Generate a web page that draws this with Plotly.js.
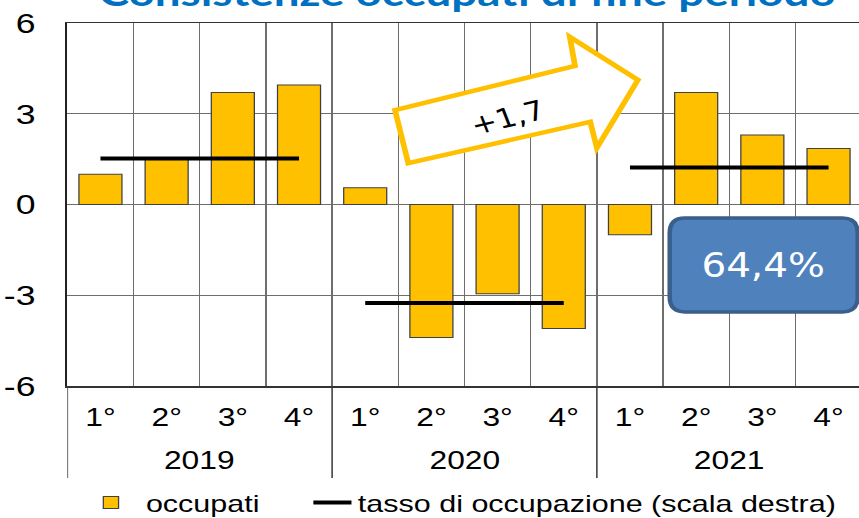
<!DOCTYPE html>
<html>
<head>
<meta charset="utf-8">
<script src="https://cdn.plot.ly/plotly-3.0.1.min.js"></script>
<style>
  html, body { margin: 0; padding: 0; background: #ffffff; overflow: hidden; width: 859px; height: 518px; }
  #chart { width: 676px; height: 518px; transform: scaleX(1.2707); transform-origin: 0 0; }
</style>
</head>
<body>
<div id="chart"></div>
<script>
// ---- data ----
const quarters = ['1°','2°','3°','4°','1°','2°','3°','4°','1°','2°','3°','4°'];
const years = ['2019','2020','2021'];
const occupati = [1.0, 1.5, 3.7, 3.95, 0.55, -4.4, -2.95, -4.1, -1.0, 3.7, 2.3, 1.85];
const tassoMedio = [1.52, -3.26, 1.22]; // annual employment rate, drawn on the chart scale
const yTicks = [-6, -3, 0, 3, 6];
const titleText = 'Consistenze occupati di fine periodo';
const arrowLabel = '+1,7';
const boxLabel = '64,4%';

// ---- build ----
const xIdx = quarters.map((q, i) => i);
const lineX = [], lineY = [];
years.forEach((y, i) => {
  lineX.push(4 * i, 4 * i + 3, null);
  lineY.push(tassoMedio[i], tassoMedio[i], null);
});

const txtFont = 'Liberation Sans, Arial, sans-serif';
const narrow = 'Liberation Sans Narrow, DejaVu Sans Condensed, Arial Narrow, sans-serif';

const traces = [
  {
    type: 'bar', x: xIdx, y: occupati, name: 'occupati', width: 0.65, legend: 'legend',
    marker: { color: '#FFC000', line: { color: '#404040', width: 1 } },
    hoverinfo: 'skip'
  },
  {
    type: 'scatter', mode: 'lines', x: lineX, y: lineY, connectgaps: false, legend: 'legend2',
    name: 'tasso di occupazione (scala destra)',
    line: { color: '#000000', width: 4 }, hoverinfo: 'skip'
  }
];

// rounded box path
const bx0 = 8.60, bx1 = 11.44, by0 = -3.55, by1 = -0.45, rx = 0.23, ry = 0.5;
const boxPath = `M${bx0+rx},${by1} L${bx1-rx},${by1} Q${bx1},${by1} ${bx1},${by1-ry} L${bx1},${by0+ry} Q${bx1},${by0} ${bx1-rx},${by0} L${bx0+rx},${by0} Q${bx0},${by0} ${bx0},${by0+ry} L${bx0},${by1-ry} Q${bx0},${by1} ${bx0+rx},${by1} Z`;
const arrowPath = 'M4.45,3.12 L7.17,4.58 L7.09,5.54 L8.12,4.12 L7.50,1.87 L7.40,2.73 L4.65,1.37 Z';

const plotH = 518 - 23 - 132;
const pY = (px) => (386 - px) / plotH;
const pX = (refPx) => (refPx / 1.2707 - 53) / 623;

const shapes = [];
[-0.5, 3.5, 7.5].forEach(xv => shapes.push({
  type: 'line', xref: 'x', yref: 'paper', x0: xv, x1: xv, y0: 0, y1: pY(478),
  line: { color: '#3a3a3a', width: 1.2 }, layer: 'above'
}));
shapes.push({ type: 'path', xref: 'x', yref: 'y', path: arrowPath, fillcolor: '#ffffff',
  line: { color: '#FFC000', width: 4.5 }, layer: 'above' });
shapes.push({ type: 'path', xref: 'x', yref: 'y', path: boxPath, fillcolor: '#4F81BD',
  line: { color: '#3A5F8B', width: 3.5 }, layer: 'above' });

const annotations = years.map((y, i) => ({
  text: y, xref: 'x', yref: 'paper', x: 4 * i + 1.5, y: pY(460),
  showarrow: false, xanchor: 'center', yanchor: 'middle',
  font: { family: txtFont, size: 25, color: '#000' }
}));
annotations.push({
  text: arrowLabel, xref: 'x', yref: 'y', x: 6.15, y: 2.88, textangle: -17,
  showarrow: false, font: { family: narrow, size: 27, color: '#000' }
});
annotations.push({
  text: boxLabel, xref: 'x', yref: 'y', x: (bx0 + bx1) / 2, y: (by0 + by1) / 2,
  showarrow: false, font: { family: narrow, size: 34, color: '#ffffff' }
});

const legFont = { family: txtFont, size: 24, color: '#000' };
const layout = {
  width: 676, height: 518,
  margin: { l: 53, r: 0, t: 23, b: 132, pad: 0, autoexpand: false },
  paper_bgcolor: '#ffffff', plot_bgcolor: '#ffffff',
  showlegend: true,
  title: {
    text: titleText, x: 0.544, xanchor: 'center', y: 0.9884, yanchor: 'bottom', yref: 'container',
    font: { family: 'Lato, Open Sans, sans-serif', size: 36, color: '#0070C0', weight: 'bold' }
  },
  xaxis: {
    range: [-0.5, 11.46], tickmode: 'array', tickvals: xIdx, ticktext: quarters,
    showgrid: false, zeroline: false, ticks: '', ticklabelstandoff: 9,
    showline: true, mirror: true, linecolor: '#333333', linewidth: 1.5,
    minor: { tick0: 0.5, dtick: 1, showgrid: true, gridcolor: '#6e6e6e', gridwidth: 1, ticks: '' },
    tickfont: { family: txtFont, size: 25, color: '#000' }, fixedrange: true
  },
  yaxis: {
    range: [-6, 6], tickmode: 'array', tickvals: yTicks, ticktext: yTicks.map(String),
    showgrid: true, gridcolor: '#6e6e6e', gridwidth: 1,
    zeroline: true, zerolinecolor: '#6e6e6e', zerolinewidth: 1,
    showline: true, linecolor: '#222222', linewidth: 1.5, ticks: '', ticklabelstandoff: 18,
    tickfont: { family: txtFont, size: 28, color: '#000' }, fixedrange: true
  },
  legend: {
    orientation: 'h', x: pX(76), xanchor: 'left', y: pY(503), yanchor: 'middle',
    font: legFont, itemwidth: 45, bgcolor: 'rgba(0,0,0,0)', borderwidth: 0
  },
  legend2: {
    orientation: 'h', x: pX(307), xanchor: 'left', y: pY(503), yanchor: 'middle',
    font: legFont, itemwidth: 30, bgcolor: 'rgba(0,0,0,0)', borderwidth: 0
  },
  shapes: shapes,
  annotations: annotations
};

Plotly.newPlot('chart', traces, layout, { displayModeBar: false, staticPlot: true });
</script>
</body>
</html>
